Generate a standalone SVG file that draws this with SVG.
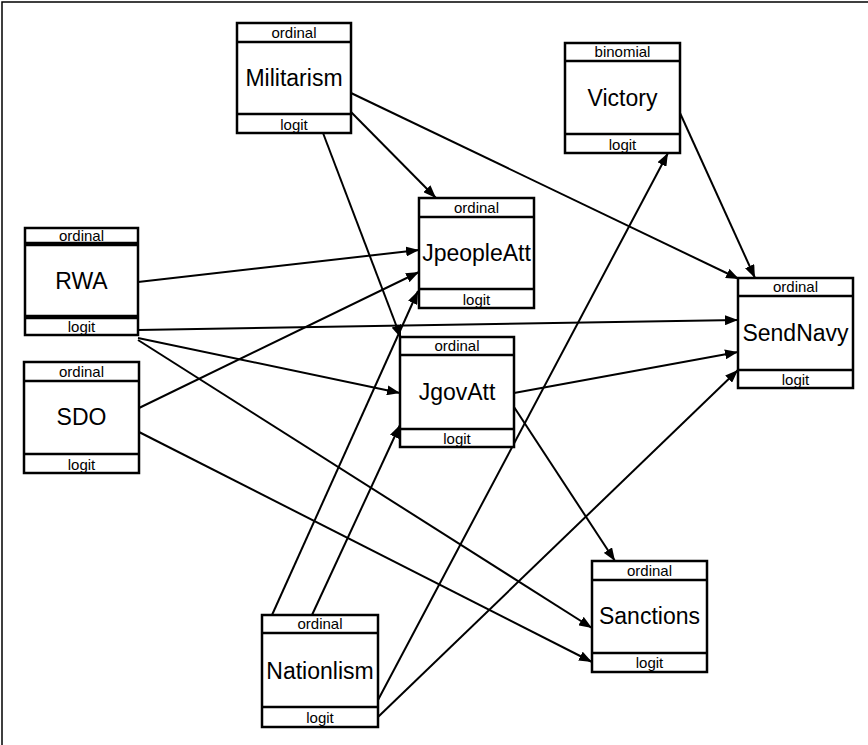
<svg xmlns="http://www.w3.org/2000/svg" width="868" height="745" viewBox="0 0 868 745">
<defs>
<marker id="ah" markerUnits="userSpaceOnUse" markerWidth="14" markerHeight="10" refX="13" refY="5" orient="auto">
<path d="M0,0 L13,5 L0,10 z" fill="#000"/>
</marker>
<style>
.box{fill:#fff;stroke:#000;stroke-width:2.5}
.div{stroke:#000;stroke-width:2.5}
.thick{stroke:#000;stroke-width:4.5}
.hd{font-family:"Liberation Sans",Arial,sans-serif;font-size:15px;text-anchor:middle;fill:#000}
.nm{font-family:"Liberation Sans",Arial,sans-serif;font-size:23px;text-anchor:middle;fill:#000}
.e{stroke:#000;stroke-width:2;fill:none;marker-end:url(#ah)}
</style>
</defs>
<rect width="868" height="745" fill="#fff"/>
<path d="M2,745 V2 H868" fill="none" stroke="#000" stroke-width="1.5"/>
<g id="connectors">
<line class="e" x1="351" y1="112" x2="436" y2="198"/>
<line class="e" x1="351" y1="93" x2="739" y2="279"/>
<line class="e" x1="323" y1="133" x2="401" y2="338"/>
<line class="e" x1="138" y1="282" x2="419" y2="250"/>
<line class="e" x1="138" y1="330" x2="738" y2="320"/>
<line class="e" x1="138" y1="338" x2="400" y2="393"/>
<line class="e" x1="138" y1="340" x2="592" y2="628"/>
<line class="e" x1="139" y1="408" x2="419" y2="272"/>
<line class="e" x1="139" y1="432" x2="592" y2="662"/>
<line class="e" x1="272" y1="615" x2="418" y2="291"/>
<line class="e" x1="312" y1="615" x2="400" y2="425"/>
<line class="e" x1="378" y1="700" x2="668" y2="153"/>
<line class="e" x1="378" y1="717" x2="738" y2="370"/>
<line class="e" x1="514" y1="393" x2="738" y2="352"/>
<line class="e" x1="514" y1="407" x2="615" y2="561"/>
<line class="e" x1="680" y1="113" x2="755" y2="278"/>
</g>
<g id="Militarism">
<rect class="box" x="237" y="23" width="114" height="110"/>
<line class="div" x1="237" y1="42" x2="351" y2="42"/>
<line class="div" x1="237" y1="114" x2="351" y2="114"/>
<text class="hd" x="294" y="38">ordinal</text>
<text class="nm" x="294" y="86">Militarism</text>
<text class="hd" x="294" y="130">logit</text>
</g>
<g id="RWA">
<rect class="box" x="25" y="228" width="113" height="107"/>
<line class="thick" x1="25" y1="244" x2="138" y2="244"/>
<line class="thick" x1="25" y1="317" x2="138" y2="317"/>
<text class="hd" x="81.5" y="241">ordinal</text>
<text class="nm" x="81.5" y="289">RWA</text>
<text class="hd" x="81.5" y="332">logit</text>
</g>
<g id="SDO">
<rect class="box" x="24" y="362" width="115" height="111"/>
<line class="div" x1="24" y1="381" x2="139" y2="381"/>
<line class="div" x1="24" y1="454" x2="139" y2="454"/>
<text class="hd" x="81.5" y="377">ordinal</text>
<text class="nm" x="81.5" y="425">SDO</text>
<text class="hd" x="81.5" y="470">logit</text>
</g>
<g id="JpeopleAtt">
<rect class="box" x="419" y="198" width="115" height="110"/>
<line class="div" x1="419" y1="217" x2="534" y2="217"/>
<line class="div" x1="419" y1="289" x2="534" y2="289"/>
<text class="hd" x="476.5" y="213">ordinal</text>
<text class="nm" x="476.5" y="261">JpeopleAtt</text>
<text class="hd" x="476.5" y="305">logit</text>
</g>
<g id="JgovAtt">
<rect class="box" x="400" y="337" width="114" height="110"/>
<line class="div" x1="400" y1="355" x2="514" y2="355"/>
<line class="div" x1="400" y1="429" x2="514" y2="429"/>
<text class="hd" x="457" y="351">ordinal</text>
<text class="nm" x="457" y="400">JgovAtt</text>
<text class="hd" x="457" y="444">logit</text>
</g>
<g id="Victory">
<rect class="box" x="565" y="43" width="115" height="110"/>
<line class="div" x1="565" y1="61" x2="680" y2="61"/>
<line class="div" x1="565" y1="134" x2="680" y2="134"/>
<text class="hd" x="622.5" y="57">binomial</text>
<text class="nm" x="622.5" y="106">Victory</text>
<text class="hd" x="622.5" y="150">logit</text>
</g>
<g id="SendNavy">
<rect class="box" x="738" y="278" width="115" height="110"/>
<line class="div" x1="738" y1="296" x2="853" y2="296"/>
<line class="div" x1="738" y1="370" x2="853" y2="370"/>
<text class="hd" x="795.5" y="292">ordinal</text>
<text class="nm" x="795.5" y="341">SendNavy</text>
<text class="hd" x="795.5" y="385">logit</text>
</g>
<g id="Sanctions">
<rect class="box" x="592" y="561" width="115" height="111"/>
<line class="div" x1="592" y1="580" x2="707" y2="580"/>
<line class="div" x1="592" y1="653" x2="707" y2="653"/>
<text class="hd" x="649.5" y="576">ordinal</text>
<text class="nm" x="649.5" y="624">Sanctions</text>
<text class="hd" x="649.5" y="668">logit</text>
</g>
<g id="Nationlism">
<rect class="box" x="262" y="615" width="116" height="112"/>
<line class="div" x1="262" y1="633" x2="378" y2="633"/>
<line class="div" x1="262" y1="707" x2="378" y2="707"/>
<text class="hd" x="320" y="629">ordinal</text>
<text class="nm" x="320" y="679">Nationlism</text>
<text class="hd" x="320" y="723">logit</text>
</g>
</svg>
